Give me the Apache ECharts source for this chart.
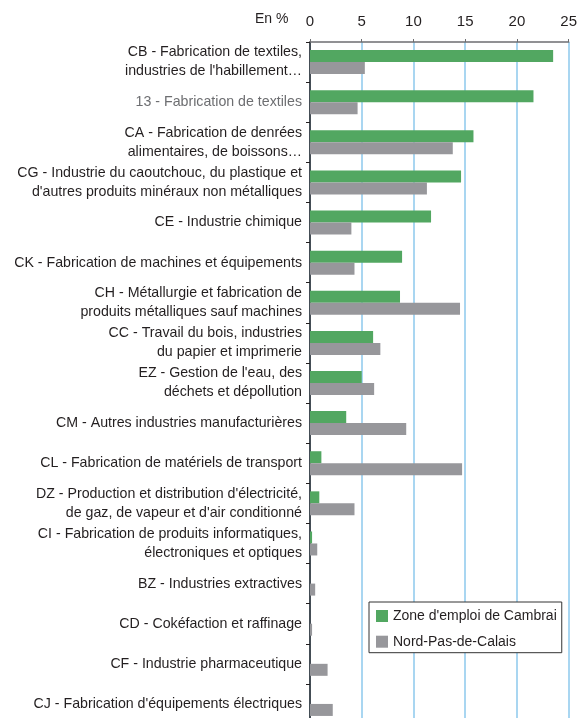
<!DOCTYPE html>
<html>
<head>
<meta charset="utf-8">
<script src="https://cdn.jsdelivr.net/npm/echarts@6/dist/echarts.min.js"></script>
<style>
  html, body { margin: 0; padding: 0; background: #fff; overflow: hidden; }
  /* le graphique d'origine déborde légèrement en bas */
  #chart { width: 580px; height: 730px; }
</style>
</head>
<body>
<div id="chart"></div>
<script>
// libellés des secteurs (de haut en bas)
const categories = [
  "CB - Fabrication de textiles,\nindustries de l'habillement…",
  '13 - Fabrication de textiles',
  'CA - Fabrication de denrées\nalimentaires, de boissons…',
  "CG - Industrie du caoutchouc, du plastique et\nd'autres produits minéraux non métalliques",
  'CE - Industrie chimique',
  'CK - Fabrication de machines et équipements',
  'CH - Métallurgie et fabrication de\nproduits métalliques sauf machines',
  'CC - Travail du bois, industries\ndu papier et imprimerie',
  "EZ - Gestion de l'eau, des\ndéchets et dépollution",
  'CM - Autres industries manufacturières',
  'CL - Fabrication de matériels de transport',
  "DZ - Production et distribution d'électricité,\nde gaz, de vapeur et d'air conditionné",
  'CI - Fabrication de produits informatiques,\nélectroniques et optiques',
  'BZ - Industries extractives',
  'CD - Cokéfaction et raffinage',
  'CF - Industrie pharmaceutique',
  "CJ - Fabrication d'équipements électriques",
]

// valeurs en %
const cambrai = [23.5, 21.6, 15.8, 14.6, 11.7, 8.9, 8.7, 6.1, 5.0, 3.5, 1.1, 0.9, 0.2, 0, 0, 0, 0]
const nordPasDeCalais = [5.3, 4.6, 13.8, 11.3, 4.0, 4.3, 14.5, 6.8, 6.2, 9.3, 14.7, 4.3, 0.7, 0.5, 0.2, 1.7, 2.2]

const seriesNames = ["Zone d'emploi de Cambrai", 'Nord-Pas-de-Calais']
const xTicks = { min: 0, max: 25, interval: 5 }

const font = "'Liberation Sans', Arial, sans-serif"
const textColor = '#231f20'

const chart = echarts.init(document.getElementById('chart'))

chart.setOption({
  animation: false,
  textStyle: { fontFamily: font },
  title: {
    text: 'En %',
    left: 255,
    top: 12,
    padding: 0,
    textStyle: { fontSize: 14, fontWeight: 'normal', color: textColor, fontFamily: font },
  },
  legend: {
    orient: 'vertical',
    left: 369,
    top: 602,
    padding: [7, 5, 4, 7],
    itemWidth: 12,
    itemHeight: 12,
    itemGap: 11.7,
    icon: 'rect',
    borderColor: '#333',
    borderWidth: 1,
    backgroundColor: '#fff',
    textStyle: { fontSize: 14, color: textColor, fontFamily: font },
    data: seriesNames,
  },
  grid: {
    left: 310,
    right: 9,
    top: 42,
    height: 682,
  },
  xAxis: {
    type: 'value',
    position: 'top',
    min: xTicks.min,
    max: xTicks.max,
    interval: xTicks.interval,
    axisLine: { show: true, lineStyle: { color: '#6d6e71', width: 1.5 } },
    axisTick: { show: true, length: 3, lineStyle: { color: '#6d6e71' } },
    axisLabel: { fontSize: 15, color: textColor, margin: 13 },
    splitLine: { show: true, lineStyle: { color: '#a9d6f1', width: 2 } },
  },
  yAxis: {
    type: 'category',
    inverse: true,
    data: categories,
    axisLine: { lineStyle: { color: textColor, width: 1.5 } },
    axisTick: { show: true, length: 4, lineStyle: { color: textColor } },
    axisLabel: {
      fontSize: 14.2,
      lineHeight: 19,
      margin: 8,
      color: (value, index) => (index === 1 ? '#6d6e71' : textColor),
    },
  },
  series: [
    {
      name: seriesNames[0],
      type: 'bar',
      data: cambrai,
      barWidth: 12,
      barGap: '0%',
      itemStyle: { color: '#52a761' },
    },
    {
      name: seriesNames[1],
      type: 'bar',
      data: nordPasDeCalais,
      barWidth: 12,
      itemStyle: { color: '#97979b' },
    },
  ],
})
</script>
</body>
</html>
